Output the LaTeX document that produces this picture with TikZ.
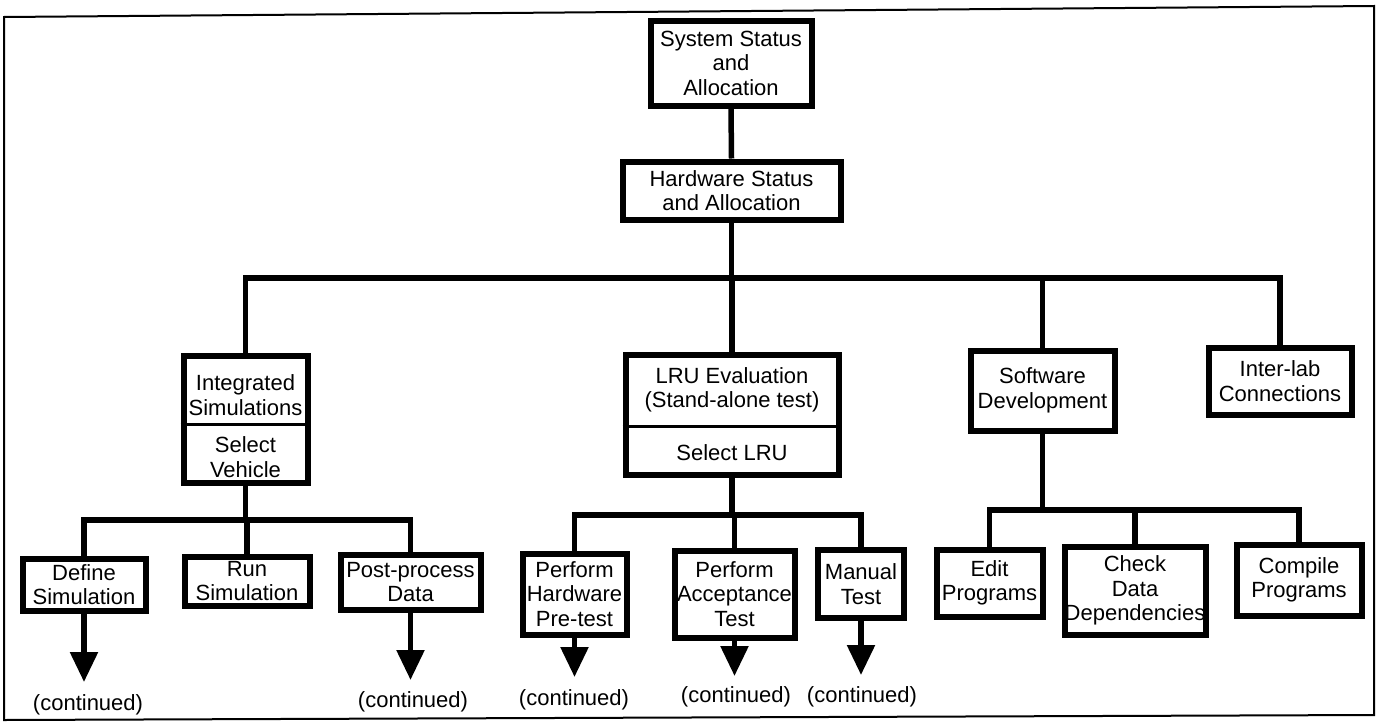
\documentclass[tikz,border=0pt]{standalone}
\usepackage{fontspec}
\setmainfont{Liberation Sans}
\usetikzlibrary{arrows.meta}
\begin{document}
\begin{tikzpicture}[x=1pt,y=-1pt,
  box/.style={draw, line width=6pt, inner sep=0pt, align=center,
    font=\fontsize{22}{24.5}\selectfont},
  txt/.style={inner sep=0pt, align=center, font=\fontsize{22}{24.5}\selectfont},
  conn/.style={line width=5.5pt, line join=miter},
  cont/.style={conn, -{Triangle[length=30pt,width=27pt]}},
  divider/.style={line width=3pt},
  frame/.style={line width=2pt}]
\useasboundingbox (0,0) rectangle (1379,723);

% outer frame
\draw[frame] (4,17) -- (1374,6) -- (1374,715) -- (4,720) -- cycle;

% top levels
\node[box, minimum width=161, minimum height=85] (sys) at (731,63) {System Status\\and\\Allocation};
\node[box, minimum width=218, minimum height=58] (hw) at (731.5,190.5) {Hardware Status\\and Allocation};

% second level
\node[box, minimum width=124, minimum height=127] (intsim) at (245.5,419) {};
\coordinate (intdiv) at (0,424);
\draw[divider] (intsim.west |- intdiv) -- (intsim.east |- intdiv);
\node[txt] (intsimT) at (245.5,395) {Integrated\\Simulations};
\node[txt] (intsimB) at (245.5,457) {Select\\Vehicle};

\node[box, minimum width=213, minimum height=120] (lru) at (732,414.5) {};
\coordinate (lrudiv) at (0,426);
\draw[divider] (lru.west |- lrudiv) -- (lru.east |- lrudiv);
\node[txt] (lruT) at (732,390) {LRU Evaluation\\(Stand-alone test)};
\node[txt] (lruB) at (732,453) {Select LRU};

\node[box, minimum width=144, minimum height=80] (sw) at (1042.5,390.5) {Software\\Development};
\node[box, minimum width=143, minimum height=67] (inter) at (1280,381) {Inter-lab\\Connections};

% leaves
\node[box, minimum width=123, minimum height=52] (define) at (84,584.5) {Define\\Simulation};
\node[box, minimum width=125, minimum height=49] (run) at (247,581) {Run\\Simulation};
\node[box, minimum width=140, minimum height=55] (post) at (410.5,582) {Post-process\\Data};
\node[box, minimum width=104, minimum height=81] (hwpre) at (574.5,594) {Perform\\Hardware\\Pre-test};
\node[box, minimum width=120, minimum height=87] (accept) at (734.5,594) {Perform\\Acceptance\\Test};
\node[box, minimum width=86, minimum height=68] (manual) at (861,584) {Manual\\Test};
\node[box, minimum width=106, minimum height=67] (edit) at (989.5,583) {Edit\\Programs};
\node[box, minimum width=141, minimum height=88] (check) at (1135,590.5) {Check\\Data\\Dependencies};
\node[box, minimum width=125, minimum height=71] (compile) at (1299,580) {Compile\\Programs};

% bus levels
\coordinate (busA) at (0,278);
\coordinate (busB) at (0,520);
\coordinate (busC) at (0,515);
\coordinate (busD) at (0,510);

% connectors
\draw[conn] (sys.south) -- (hw.north);
\draw[conn] (hw.south) -- (hw.south |- busA);
\draw[conn] (intsim.north) |- (inter.north |- busA) -- (inter.north);
\draw[conn] (lru.north) -- (lru.north |- busA);
\draw[conn] (sw.north) -- (sw.north |- busA);

\draw[conn] (intsim.south) -- (intsim.south |- busB);
\draw[conn] (define.north) |- (post.north |- busB) -- (post.north);
\draw[conn] (run.north) -- (run.north |- busB);

\draw[conn] (lru.south) -- (lru.south |- busC);
\draw[conn] (hwpre.north) |- (manual.north |- busC) -- (manual.north);
\draw[conn] (accept.north) -- (accept.north |- busC);

\draw[conn] (sw.south) -- (sw.south |- busD);
\draw[conn] (edit.north) |- (compile.north |- busD) -- (compile.north);
\draw[conn] (check.north) -- (check.north |- busD);

% continuation arrows
\coordinate (tipdef) at (84,682);
\coordinate (tippost) at (410.5,680);
\coordinate (tiphwpre) at (574.5,677);
\coordinate (tipaccept) at (734.5,676);
\coordinate (tipmanual) at (861,675);
\draw[cont] (define.south) -- (tipdef);
\draw[cont] (post.south) -- (tippost);
\draw[cont] (hwpre.south) -- (tiphwpre);
\draw[cont] (accept.south) -- (tipaccept);
\draw[cont] (manual.south) -- (tipmanual);

\node[txt] (contdef) at (88,705) {(continued)};
\node[txt] (contpost) at (413,702) {(continued)};
\node[txt] (conthwpre) at (574,700) {(continued)};
\node[txt] (contaccept) at (736,697) {(continued)};
\node[txt] (contmanual) at (862,697) {(continued)};
\end{tikzpicture}
\end{document}
